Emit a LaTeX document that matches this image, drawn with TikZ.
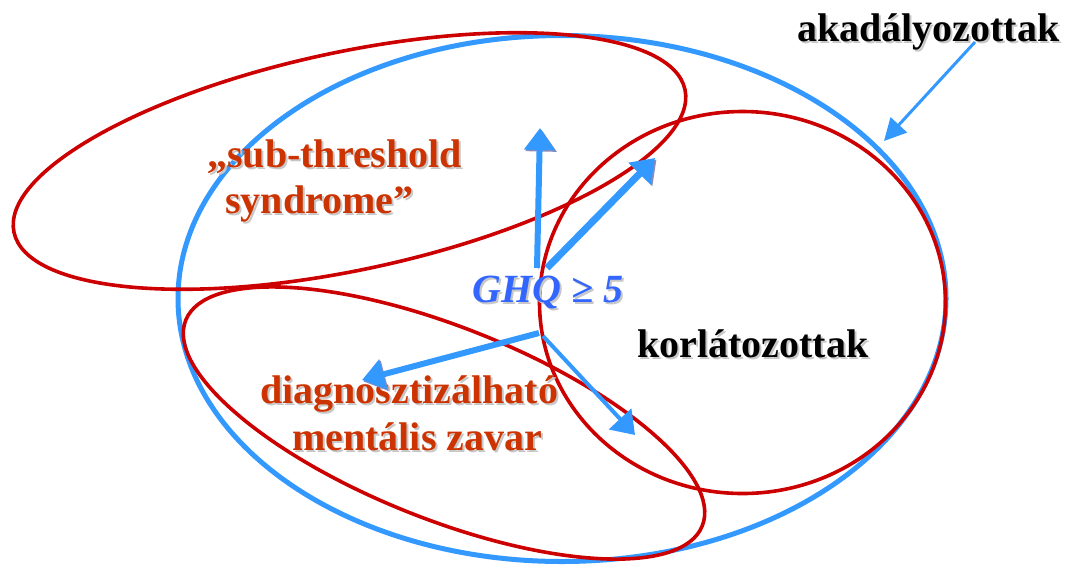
\documentclass[tikz,border=0pt]{standalone}
\usepackage{fontspec}
\setmainfont{Liberation Serif}
\usetikzlibrary{arrows.meta}
\definecolor{redline}{HTML}{CC0000}
\definecolor{blueline}{HTML}{3399FF}
\definecolor{labelred}{HTML}{CC3300}
\definecolor{ghqblue}{HTML}{3366FF}
\newcommand\shtext[1]{\leavevmode\rlap{\hspace{2pt}\raisebox{-2pt}{\textcolor{black!22}{#1}}}#1}
\tikzset{
  redell/.style={draw=redline, line width=3.6pt},
  blueell/.style={draw=blueline, line width=5pt},
  lbl/.style={inner sep=0pt, anchor=base west, font=\fontsize{40}{48}\selectfont\bfseries},
  bigarrow/.style={draw=blueline, line width=#1,
     -{Triangle[width=30pt,length=22pt]},
     preaction={draw=blue!40!black!45, -{Triangle[width=30pt,length=22pt]}, transform canvas={shift={(1.5pt,-1.5pt)}}}},
  thinarrow/.style={draw=blueline, line width=3pt, -{Triangle[width=22pt,length=22pt]}}
}
\begin{document}
\begin{tikzpicture}[x=1pt,y=-1pt]
\useasboundingbox (0,0) rectangle (1065,566);
% big blue ellipse
\draw[blueell] (562,298.5) ellipse [x radius=384pt, y radius=263pt];
% red ellipses
\draw[redell, shift={(349.5,161)}, rotate=12] (0,0) ellipse [x radius=343pt, y radius=109pt];
\draw[redell, shift={(444,423)}, rotate=-21.7] (0,0) ellipse [x radius=278pt, y radius=96pt];
\draw[redell] (742.5,302.5) ellipse [x radius=203pt, y radius=191pt];

% labels
\node[lbl, text=black] (akad) at (797,41) {\shtext{akadályozottak}};
\node[lbl, text=black] (korl) at (637,357) {\shtext{korlátozottak}};
\node[lbl, text=labelred] (sub1) at (207,167) {\shtext{„sub-threshold}};
\node[lbl, text=labelred] (sub2) at (225,213) {\shtext{syndrome”}};
\node[lbl, text=labelred] (diag1) at (260,403) {\shtext{diagnosztizálható}};
\node[lbl, text=labelred] (diag2) at (292,450) {\shtext{mentális zavar}};
\node[lbl, text=ghqblue, font=\fontsize{40}{48}\selectfont\bfseries\itshape] (ghq) at (472,302) {\shtext{GHQ ≥ 5}};

% arrow coordinates
\coordinate (u0) at (537,268);
\coordinate (u1) at (540,128);
\coordinate (ur0) at (547,268);
\coordinate (ur1) at (655,158);
\coordinate (dl0) at (539,333);
\coordinate (dl1) at (362,380);
\coordinate (dr0) at (543,336);
\coordinate (dr1) at (635,435);
\coordinate (a0) at (975,42);
\coordinate (a1) at (884,141);

\draw[bigarrow=6pt] (u0) -- (u1);
\draw[bigarrow=7pt] (ur0) -- (ur1);
\draw[bigarrow=6pt] (dl0) -- (dl1);
\draw[bigarrow=4pt] (dr0) -- (dr1);
\draw[thinarrow] (a0) -- (a1);
\end{tikzpicture}
\end{document}
